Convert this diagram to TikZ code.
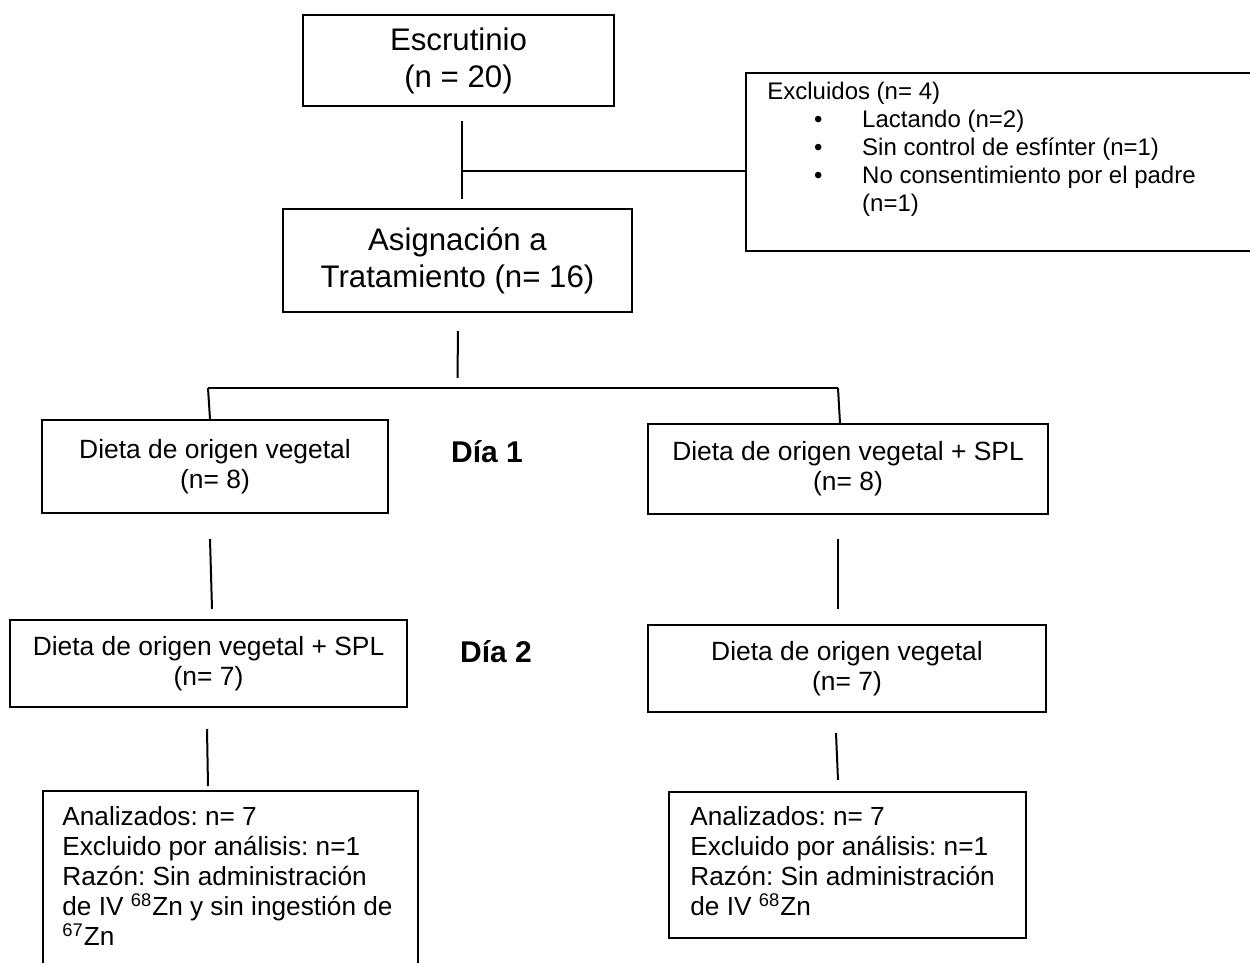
\documentclass[tikz,border=0pt]{standalone}
\usepackage{fontspec}
\setmainfont{Liberation Sans}
\usetikzlibrary{positioning,calc}
\frenchspacing

\begin{document}
\begin{tikzpicture}[x=0.5pt,y=-0.5pt,
    box/.style={draw,line width=1pt,align=center,inner sep=0pt},
    bigbox/.style={box,font=\fontsize{15.6}{18.5}\selectfont},
    dietbox/.style={box,font=\fontsize{13.2}{15}\selectfont},
    notebox/.style={draw,line width=1pt,anchor=north west,inner sep=0pt},
    notetext/.style={anchor=north west,align=left,inner sep=0pt},
    daylabel/.style={anchor=base,font=\bfseries\fontsize{15}{17}\selectfont},
    link/.style={line width=1pt}]
  \useasboundingbox (0,0) rectangle (1250,963);
  \clip (0,0) rectangle (1250,963);

  % boxes
  \node[bigbox,minimum width=155.5pt,minimum height=45.5pt] (escrutinio) at (458.5,60.5) {Escrutinio\\(n = 20)};
  \node[bigbox,minimum width=174.5pt,minimum height=51.5pt] (asignacion) at (457.5,260.5) {Asignación a\\Tratamiento (n= 16)};
  \node[notebox,minimum width=260pt,minimum height=89pt] (excluidos) at (745,72) {};
  \node[notetext,font=\fontsize{12}{14}\selectfont] (excltext) at (767,82)
    {Excluidos (n= 4)\\
     \hspace*{23.4pt}\makebox[24pt][l]{\textbullet}Lactando (n=2)\\
     \hspace*{23.4pt}\makebox[24pt][l]{\textbullet}Sin control de esfínter (n=1)\\
     \hspace*{23.4pt}\makebox[24pt][l]{\textbullet}No consentimiento por el padre\\
     \hspace*{47.4pt}(n=1)};

  \node[dietbox,minimum width=173pt,minimum height=46.5pt] (vegetal1) at (215,466.5) {Dieta de origen vegetal\\(n= 8)};
  \node[dietbox,minimum width=200pt,minimum height=45pt] (spl1) at (848,469) {Dieta de origen vegetal + SPL\\(n= 8)};
  \node[daylabel] (dia1) at (487,462) {Día 1};

  \node[dietbox,minimum width=198.5pt,minimum height=43.5pt] (spl2) at (208.5,663.5) {Dieta de origen vegetal + SPL\\(n= 7)};
  \node[dietbox,minimum width=199pt,minimum height=43.5pt] (vegetal2) at (847,668.5) {Dieta de origen vegetal\\(n= 7)};
  \node[daylabel] (dia2) at (496,662) {Día 2};

  \node[notebox,minimum width=187.5pt,minimum height=95pt] (analizadosA) at (42,790) {};
  \node[notetext,font=\fontsize{13.1}{15}\selectfont] (analtextA) at (62,806)
    {Analizados: n= 7\\Excluido por análisis: n=1\\Razón: Sin administración\\de IV \textsuperscript{68}Zn y sin ingestión de\\\textsuperscript{67}Zn};
  \node[notebox,minimum width=178.5pt,minimum height=73pt] (analizadosB) at (668,791) {};
  \node[notetext,font=\fontsize{13.1}{15}\selectfont] (analtextB) at (690,806)
    {Analizados: n= 7\\Excluido por análisis: n=1\\Razón: Sin administración\\de IV \textsuperscript{68}Zn};

  % connectors (they stop short of the boxes)
  \coordinate (split) at (462,171);
  \coordinate (hubL) at (208,388);
  \coordinate (hubR) at (838,388);
  \draw[link] ([xshift=1.75pt,yshift=-7pt]escrutinio.south) -- ([xshift=2.25pt,yshift=4.5pt]asignacion.north);
  \draw[link] (split) -- (split -| excluidos.west);
  \draw[link] ([xshift=0.25pt,yshift=-9pt]asignacion.south) -- ([yshift=5pt]hubL -| asignacion.south);
  \draw[link] (hubL) -- (hubR);
  \draw[link] (hubL) -- ([xshift=-2.5pt]vegetal1.north);
  \draw[link] (hubR) -- ([xshift=-4pt]spl1.north);

  \draw[link] ([xshift=-2.5pt,yshift=-12.5pt]vegetal1.south) -- ([xshift=1.75pt,yshift=5pt]spl2.north);
  \draw[link] ([xshift=-5pt,yshift=-12pt]spl1.south) -- ([xshift=-4.5pt,yshift=7.5pt]vegetal2.north);
  \draw[link] ([xshift=-0.75pt,yshift=-10.5pt]spl2.south) -- ([xshift=-11.25pt,yshift=2pt]analizadosA.north);
  \draw[link] ([xshift=-5.5pt,yshift=-10pt]vegetal2.south) -- ([xshift=-4.75pt,yshift=5.5pt]analizadosB.north);
\end{tikzpicture}
\end{document}
